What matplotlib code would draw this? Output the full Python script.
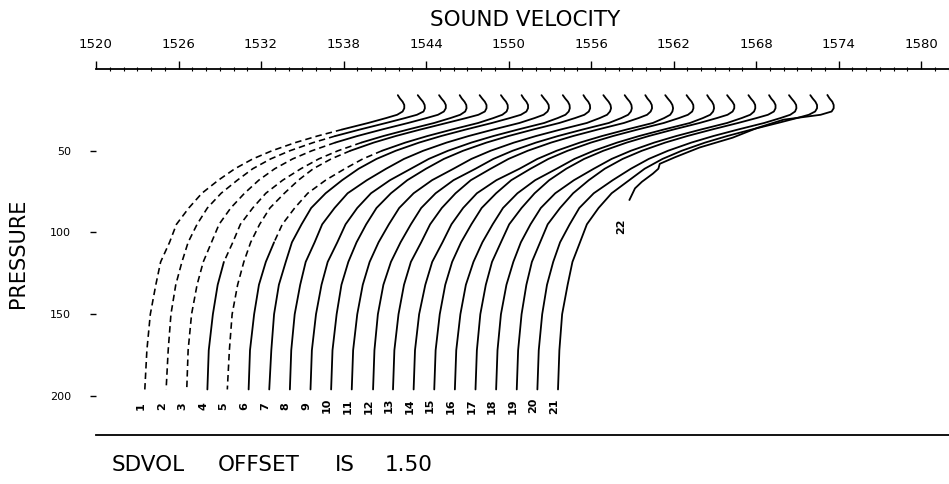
"""
Perfiles de velocidad del sonido (SDVOL) desplazados 1.50 m/s entre sí.
Réplica de una salida de plotter escaneada.
"""

import matplotlib
matplotlib.use('Agg')
import matplotlib.pyplot as plt


# ---------------------------------------------------------------------------
# DATOS  (velocidad sin desplazar, m/s; presión en dbar)
# ---------------------------------------------------------------------------

OFFSET = 1.50

PRES = [16, 18, 20, 22, 24, 26, 28, 30, 33, 37, 41, 45, 50, 55, 61, 68, 76, 85, 95, 106, 118, 132, 150, 172, 196]

CAST_01 = [1541.95, 1542.10, 1542.30, 1542.42, 1542.42, 1542.30, 1541.90, 1541.10, 1539.80, 1537.90, 1536.10, 1534.50, 1532.80, 1531.40, 1530.10, 1528.90, 1527.70, 1526.75, 1525.85, 1525.35, 1524.70, 1524.35, 1523.95, 1523.70, 1523.55]
CAST_02 = [1541.90, 1542.08, 1542.28, 1542.40, 1542.42, 1542.32, 1541.84, 1540.98, 1539.60, 1537.70, 1535.90, 1534.30, 1532.60, 1531.20, 1529.90, 1528.78, 1527.60, 1526.60, 1525.85, 1525.20, 1524.75, 1524.30, 1523.95, 1523.75, 1523.60]
CAST_03 = [1541.95, 1542.12, 1542.32, 1542.44, 1542.44, 1542.30, 1541.87, 1541.04, 1539.70, 1537.80, 1536.00, 1534.40, 1532.70, 1531.30, 1530.00, 1528.84, 1527.80, 1526.80, 1525.95, 1525.40, 1524.80, 1524.35, 1523.95, 1523.70, 1523.60]
CAST_04 = [1541.95, 1542.10, 1542.30, 1542.43, 1542.45, 1542.35, 1541.99, 1541.28, 1540.10, 1538.20, 1536.40, 1534.80, 1533.10, 1531.70, 1530.40, 1529.08, 1527.85, 1526.90, 1526.00, 1525.45, 1524.80, 1524.35, 1524.00, 1523.70, 1523.60]
CAST_05 = [1541.90, 1542.08, 1542.28, 1542.40, 1542.40, 1542.28, 1541.81, 1540.92, 1539.50, 1537.60, 1535.80, 1534.20, 1532.50, 1531.10, 1529.80, 1528.72, 1527.70, 1526.65, 1525.90, 1525.25, 1524.75, 1524.30, 1523.90, 1523.70, 1523.55]
CAST_06 = [1541.95, 1542.12, 1542.32, 1542.44, 1542.45, 1542.36, 1542.05, 1541.40, 1540.30, 1538.40, 1536.60, 1535.00, 1533.30, 1531.90, 1530.60, 1529.20, 1527.90, 1526.95, 1526.05, 1525.45, 1524.85, 1524.35, 1524.00, 1523.70, 1523.60]
CAST_07 = [1541.95, 1542.10, 1542.30, 1542.42, 1542.42, 1542.30, 1541.90, 1541.10, 1539.80, 1537.90, 1536.10, 1534.50, 1532.80, 1531.40, 1530.10, 1528.90, 1527.70, 1526.65, 1525.95, 1525.25, 1524.80, 1524.30, 1523.95, 1523.75, 1523.60]
CAST_08 = [1541.90, 1542.08, 1542.28, 1542.42, 1542.44, 1542.34, 1542.05, 1541.40, 1540.30, 1538.40, 1536.60, 1535.00, 1533.30, 1531.90, 1530.60, 1529.20, 1527.80, 1526.85, 1525.95, 1525.40, 1524.75, 1524.35, 1523.95, 1523.70, 1523.60]
CAST_09 = [1541.95, 1542.12, 1542.32, 1542.44, 1542.46, 1542.38, 1542.14, 1541.58, 1540.60, 1538.70, 1536.90, 1535.30, 1533.60, 1532.20, 1530.90, 1529.38, 1528.00, 1527.00, 1526.15, 1525.55, 1524.85, 1524.40, 1524.00, 1523.70, 1523.60]
CAST_10 = [1541.95, 1542.10, 1542.30, 1542.42, 1542.44, 1542.34, 1542.02, 1541.34, 1540.20, 1538.30, 1536.50, 1534.90, 1533.20, 1531.80, 1530.50, 1529.14, 1527.95, 1526.90, 1526.15, 1525.45, 1524.85, 1524.35, 1524.00, 1523.70, 1523.60]
CAST_11 = [1541.90, 1542.08, 1542.28, 1542.42, 1542.46, 1542.38, 1542.17, 1541.64, 1540.70, 1538.80, 1537.00, 1535.40, 1533.70, 1532.30, 1531.00, 1529.44, 1528.10, 1527.05, 1526.30, 1525.55, 1524.90, 1524.40, 1524.00, 1523.70, 1523.60]
CAST_12 = [1541.95, 1542.12, 1542.32, 1542.44, 1542.47, 1542.40, 1542.20, 1541.70, 1540.80, 1538.90, 1537.10, 1535.50, 1533.80, 1532.40, 1531.10, 1529.50, 1528.20, 1527.15, 1526.40, 1525.65, 1524.95, 1524.40, 1524.00, 1523.75, 1523.65]
CAST_13 = [1541.95, 1542.10, 1542.30, 1542.42, 1542.44, 1542.34, 1542.08, 1541.46, 1540.40, 1538.50, 1536.70, 1535.10, 1533.40, 1532.00, 1530.70, 1529.26, 1528.15, 1527.15, 1526.30, 1525.65, 1524.90, 1524.40, 1524.00, 1523.70, 1523.60]
CAST_14 = [1541.90, 1542.08, 1542.28, 1542.42, 1542.47, 1542.42, 1542.26, 1541.82, 1541.00, 1539.10, 1537.30, 1535.70, 1534.00, 1532.60, 1531.30, 1529.62, 1528.20, 1527.20, 1526.35, 1525.70, 1524.95, 1524.45, 1524.00, 1523.70, 1523.60]
CAST_15 = [1541.95, 1542.12, 1542.32, 1542.44, 1542.45, 1542.36, 1542.05, 1541.40, 1540.30, 1538.40, 1536.60, 1535.00, 1533.30, 1531.90, 1530.60, 1529.20, 1528.10, 1527.05, 1526.30, 1525.55, 1524.90, 1524.40, 1524.00, 1523.70, 1523.60]
CAST_16 = [1541.95, 1542.10, 1542.30, 1542.42, 1542.45, 1542.38, 1542.17, 1541.64, 1540.70, 1538.80, 1537.00, 1535.40, 1533.70, 1532.30, 1531.00, 1529.44, 1528.15, 1527.10, 1526.35, 1525.60, 1524.95, 1524.40, 1524.00, 1523.70, 1523.60]
CAST_17 = [1541.90, 1542.08, 1542.28, 1542.42, 1542.42, 1542.30, 1541.93, 1541.16, 1539.90, 1538.00, 1536.20, 1534.60, 1532.90, 1531.50, 1530.20, 1528.96, 1527.90, 1526.95, 1526.05, 1525.45, 1524.80, 1524.35, 1523.95, 1523.70, 1523.60]
CAST_18 = [1541.95, 1542.12, 1542.32, 1542.44, 1542.45, 1542.36, 1542.08, 1541.46, 1540.40, 1538.50, 1536.70, 1535.10, 1533.40, 1532.00, 1530.70, 1529.26, 1527.90, 1526.85, 1526.10, 1525.40, 1524.85, 1524.35, 1523.95, 1523.70, 1523.60]
CAST_19 = [1541.95, 1542.10, 1542.30, 1542.42, 1542.42, 1542.30, 1541.87, 1541.04, 1539.70, 1537.80, 1536.00, 1534.40, 1532.70, 1531.30, 1530.00, 1528.84, 1527.70, 1526.75, 1525.85, 1525.30, 1524.70, 1524.30, 1523.95, 1523.70, 1523.60]
CAST_20 = [1541.90, 1542.08, 1542.28, 1542.42, 1542.44, 1542.34, 1541.99, 1541.28, 1540.10, 1538.20, 1536.40, 1534.80, 1533.10, 1531.70, 1530.40, 1529.08, 1527.70, 1526.65, 1525.95, 1525.25, 1524.75, 1524.30, 1523.95, 1523.70, 1523.60]
CAST_21 = [1541.95, 1542.12, 1542.32, 1542.44, 1542.44, 1542.30, 1541.84, 1540.98, 1539.60, 1537.70, 1535.90, 1534.30, 1532.60, 1531.20, 1529.90, 1528.78, 1527.50, 1526.55, 1525.70, 1525.20, 1524.65, 1524.30, 1523.90, 1523.70, 1523.60]

# el lance 22 es más corto (termina hacia 80 dbar)
PRES_22 = [16, 18, 20, 22, 24, 26, 28, 31, 36, 42, 48, 54, 58, 61, 64, 69, 73, 80]
CAST_22 = [1541.70, 1541.85, 1542.05, 1542.15, 1542.15, 1542.00, 1541.20, 1538.50, 1536.60, 1534.80, 1532.40, 1530.60, 1529.50, 1529.40, 1529.00, 1528.20, 1527.70, 1527.30]

CASTS = [CAST_01, CAST_02, CAST_03, CAST_04, CAST_05, CAST_06, CAST_07,
         CAST_08, CAST_09, CAST_10, CAST_11, CAST_12, CAST_13, CAST_14,
         CAST_15, CAST_16, CAST_17, CAST_18, CAST_19, CAST_20, CAST_21]

VEL_TICKS = [1520, 1526, 1532, 1538, 1544, 1550, 1556, 1562, 1568, 1574, 1580]
PRES_TICKS = [50, 100, 150, 200]

# tramos donde el trazo escaneado sale entrecortado: lance -> (p inicial, p final)
TRAZO_CORTADO = {1: (37, 196), 2: (41, 196), 3: (45, 196),
                 4: (45, 118), 5: (50, 196), 6: (50, 106)}


# ---------------------------------------------------------------------------
# FIGURA
# ---------------------------------------------------------------------------

W, H = 949, 484
fig = plt.figure(figsize=(W / 100, H / 100), dpi=100)
ax = fig.add_axes([96 / W, 1 - 435 / H, 1 - 96 / W, (435 - 69) / H])

ink = 'black'
LW = 1.3

for i, vel in enumerate(CASTS):
    n = i + 1
    x = [v + OFFSET * i for v in vel]
    if n in TRAZO_CORTADO:
        p0, p1 = TRAZO_CORTADO[n]
        k0, k1 = PRES.index(p0), PRES.index(p1)
        ax.plot(x[:k0 + 1], PRES[:k0 + 1], color=ink, lw=LW,
                solid_capstyle='round', solid_joinstyle='round')
        ax.plot(x[k0:k1 + 1], PRES[k0:k1 + 1], color=ink, lw=LW * 0.9,
                ls=(0, (4, 2.5)))
        if k1 < len(PRES) - 1:
            ax.plot(x[k1:], PRES[k1:], color=ink, lw=LW,
                    solid_capstyle='round', solid_joinstyle='round')
    else:
        ax.plot(x, PRES, color=ink, lw=LW, solid_capstyle='round',
                solid_joinstyle='round')
    ax.text(x[-1] - 0.3, 206, str(n), rotation=90, ha='center', va='center',
            fontsize=8, fontweight='bold', color=ink)

x22 = [v + OFFSET * 21 for v in CAST_22]
ax.plot(x22, PRES_22, color=ink, lw=LW, solid_joinstyle='round')
ax.text(x22[-1] - 0.6, PRES_22[-1] + 16, '22', rotation=90, ha='center',
        va='center', fontsize=8, fontweight='bold', color=ink)

ax.set_xlim(1520, 1520 + (W - 96) / 13.75)
ax.set_ylim((435 - 69) / 1.635, 0)

# eje superior de velocidad
ax.xaxis.tick_top()
ax.set_xticks(VEL_TICKS)
ax.set_xticklabels([str(v) for v in VEL_TICKS], fontsize=9.5)
ax.set_xticks(range(1520, 1583), minor=True)
ax.tick_params(axis='x', which='major', direction='out', length=6, width=1, pad=7)
ax.tick_params(axis='x', which='minor', direction='inout', length=3, width=0.8)

# eje de presión: solo marcas
ax.set_yticks(PRES_TICKS)
ax.set_yticklabels([str(p) for p in PRES_TICKS], fontsize=8)
ax.tick_params(axis='y', direction='out', length=4, width=1, pad=14)

for side in ('left', 'right'):
    ax.spines[side].set_visible(False)
for side in ('top', 'bottom'):
    ax.spines[side].set_linewidth(1.3)

# textos
fig.text(525 / W, 1 - 20 / H, 'SOUND VELOCITY', ha='center', va='center',
         fontsize=15.5, color=ink)
fig.text(18 / W, 1 - 253 / H, 'PRESSURE', rotation=90, ha='center',
         va='center', fontsize=15, color=ink)
fig.text(112 / W, 1 - 465 / H, 'SDVOL', ha='left', va='center', fontsize=15.5, color=ink)
fig.text(218 / W, 1 - 465 / H, 'OFFSET', ha='left', va='center', fontsize=15.5, color=ink)
fig.text(335 / W, 1 - 465 / H, 'IS', ha='left', va='center', fontsize=15.5, color=ink)
fig.text(385 / W, 1 - 465 / H, '1.50', ha='left', va='center', fontsize=15.5, color=ink)

fig.savefig('out.png', dpi=100)
plt.close('all')
